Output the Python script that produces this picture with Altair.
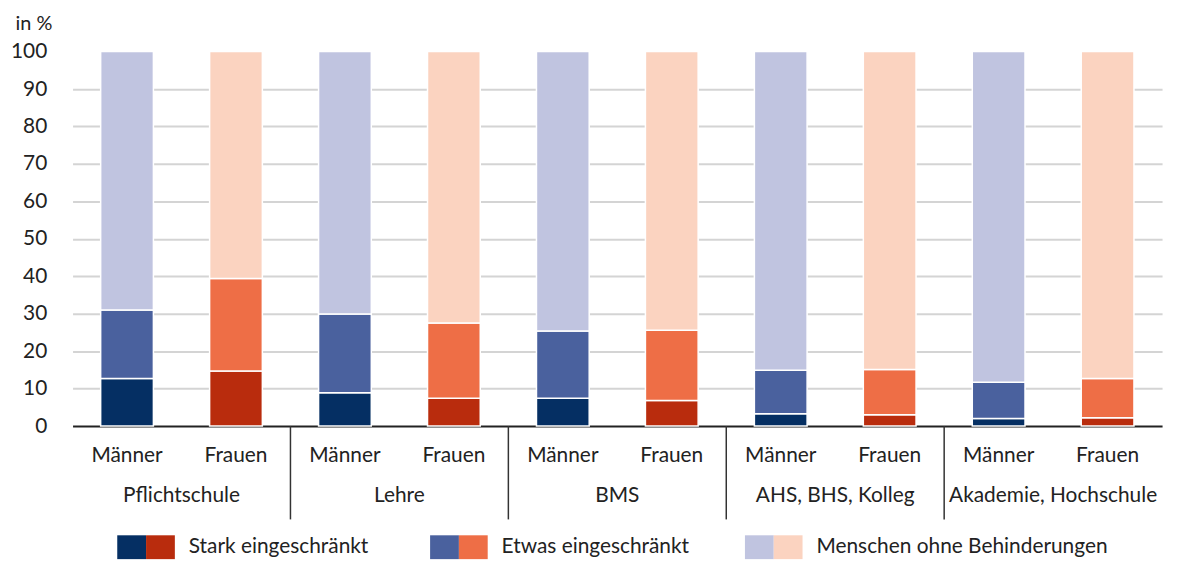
import altair as alt
import pandas as pd

groups = ["Pflichtschule", "Lehre", "BMS", "AHS, BHS, Kolleg", "Akademie, Hochschule"]
sexes = ["Männer", "Frauen"]
levels = ["Stark eingeschränkt", "Etwas eingeschränkt", "Menschen ohne Behinderungen"]

stark_m = [12.7, 8.9, 7.4, 3.3, 2.0]
etwas_m = [18.3, 21.0, 18.0, 11.6, 9.7]
ohne_m = [69.0, 70.1, 74.6, 85.1, 88.3]
stark_f = [14.7, 7.4, 6.8, 3.0, 2.2]
etwas_f = [24.7, 20.1, 18.8, 12.1, 10.5]
ohne_f = [60.6, 72.5, 74.4, 84.9, 87.3]

colors_m = ["#052f63", "#4a619e", "#c0c4e0"]
colors_f = ["#b92c0d", "#ee6e46", "#fbd3c0"]

y_ticks = [0, 10, 20, 30, 40, 50, 60, 70, 80, 90, 100]

FONT = "Lato"
FS = 21
TXT = "#222222"
W, H = 1097, 377

rows = []
series = {"Männer": [stark_m, etwas_m, ohne_m], "Frauen": [stark_f, etwas_f, ohne_f]}
for gi, g in enumerate(groups):
    for s in sexes:
        for li, lvl in enumerate(levels):
            rows.append({"group": g, "sex": s, "level": lvl, "lvl": li,
                         "key": s + "|" + lvl, "value": series[s][li][gi]})
df = pd.DataFrame(rows)

keys = [s + "|" + l for s in sexes for l in levels]
key_colors = colors_m + colors_f

xscale = alt.Scale(paddingInner=0, paddingOuter=0)
xoff = alt.XOffset("sex:N", sort=sexes, scale=alt.Scale(paddingInner=0.516, paddingOuter=0.258))

bars = alt.Chart(df).mark_bar(stroke="white", strokeWidth=1.5).encode(
    x=alt.X("group:N", sort=groups, scale=xscale, title=None,
            axis=alt.Axis(labelAngle=0, ticks=False, tickSize=0, labelPadding=70,
                          labelBaseline="middle", labelFont=FONT, labelFontSize=FS,
                          labelColor=TXT, domainColor="#222222", domainWidth=2,
                          labelLimit=300)),
    xOffset=xoff,
    y=alt.Y("value:Q", stack="zero", scale=alt.Scale(domain=[0, 100], nice=False),
            axis=alt.Axis(values=y_ticks, domain=False, ticks=False, tickSize=0,
                          labelPadding=26, labelFont=FONT, labelFontSize=FS,
                          labelColor=TXT, gridColor="#d4d4d4", gridWidth=2,
                          gridOpacity=alt.ExprRef("datum.value == 100 || datum.value == 0 ? 0 : 1"),
                          title="in %", titleAngle=0, titleAlign="left",
                          titleBaseline="middle", titleX=-58, titleY=-28,
                          titleFont=FONT, titleFontSize=20, titleFontWeight="normal",
                          titleColor=TXT)),
    color=alt.Color("key:N", scale=alt.Scale(domain=keys, range=key_colors), legend=None),
    order=alt.Order("lvl:Q", sort="ascending"),
)

sex_df = pd.DataFrame([{"group": g, "sex": s} for g in groups for s in sexes])
sex_labels = alt.Chart(sex_df).mark_text(font=FONT, fontSize=FS, color=TXT, baseline="middle").encode(
    x=alt.X("group:N", sort=groups),
    xOffset=alt.XOffset("sex:N", sort=sexes),
    y=alt.value(H + 30),
    text="sex:N",
)

sep_df = pd.DataFrame({"group": groups[1:]})
seps = alt.Chart(sep_df).mark_rule(color="#333333", strokeWidth=1.5).encode(
    x=alt.X("group:N", sort=groups, bandPosition=0),
    y=alt.value(H),
    y2=alt.value(H + 94),
)

legend_layers = []
leg_x = [45, 360, 677]
dummy = pd.DataFrame({"a": [0]})
for i, lvl in enumerate(levels):
    x0 = leg_x[i]
    legend_layers.append(alt.Chart(dummy).mark_rect(color=colors_m[i]).encode(
        x=alt.value(x0), x2=alt.value(x0 + 29), y=alt.value(H + 110), y2=alt.value(H + 134)))
    legend_layers.append(alt.Chart(dummy).mark_rect(color=colors_f[i]).encode(
        x=alt.value(x0 + 29), x2=alt.value(x0 + 58), y=alt.value(H + 110), y2=alt.value(H + 134)))
    legend_layers.append(alt.Chart(dummy).mark_text(font=FONT, fontSize=FS, color=TXT,
                                                     align="left", baseline="middle").encode(
        x=alt.value(x0 + 72), y=alt.value(H + 122), text=alt.value(lvl)))

chart = alt.layer(bars, sex_labels, seps, *legend_layers).properties(
    width=W, height=H,
    autosize=alt.AutoSizeParams(type="none"),
    padding={"left": 65, "top": 42, "right": 10, "bottom": 140},
).configure_view(stroke=None)

chart.save("out.html", embed_options={"renderer": "svg", "actions": False})
